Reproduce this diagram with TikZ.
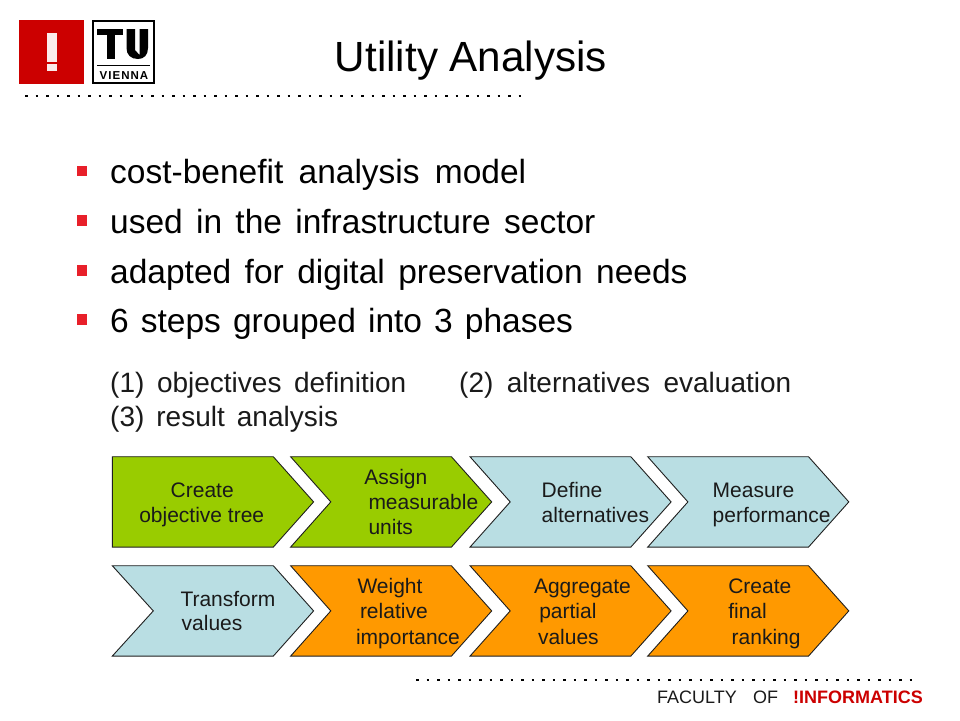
\documentclass[tikz,border=0pt]{standalone}
\usepackage{fontspec}
\setmainfont{Liberation Sans}
\newfontfamily\viennafont[LetterSpace=9]{Liberation Sans}
\definecolor{cgreen}{HTML}{99CC00}
\definecolor{cblue}{HTML}{B9DEE3}
\definecolor{corange}{HTML}{FF9900}
\definecolor{cred}{HTML}{CC0000}
\definecolor{cbullet}{HTML}{E8202A}
\definecolor{cink}{HTML}{1A1A1A}
\newcommand{\chev}[5]{% name, fill, left x, top y, notch (1/0)
  \ifnum#5=1
    \draw[chevline,fill=#2] (#3,#4) -- ++(160.8,0) -- ++(40.3,45.2) -- ++(-40.3,45.2) -- ++(-160.8,0) -- ++(40.2,-45.2) -- cycle;
  \else
    \draw[chevline,fill=#2] (#3,#4) -- ++(161,0) -- ++(40.3,45.2) -- ++(-40.3,45.2) -- ++(-161,0) -- cycle;
  \fi
}
\tikzset{
  chevline/.style={draw=black!88!white,line width=0.9pt},
  lbl/.style={anchor=base west,inner sep=0pt,outer sep=0pt,text=cink,font=\fontsize{21}{24}\selectfont},
  title/.style={anchor=base,inner sep=0pt,text=black,font=\fontsize{42.2}{48}\selectfont},
  bodyline/.style={anchor=base west,inner sep=0pt,text=black,font=\fontsize{33.5}{38}\selectfont},
  subline/.style={anchor=base west,inner sep=0pt,text=cink,font=\fontsize{28}{32}\selectfont},
  bullet/.style={fill=cbullet,draw=none},
  dots/.style={line width=2.6pt,dash pattern=on 2.6pt off 7.9pt,draw=black},
  foot/.style={anchor=base west,inner sep=0pt,font=\fontsize{18}{20}\selectfont}
}
\begin{document}
\begin{tikzpicture}[x=1pt,y=-1pt]
\useasboundingbox[fill=white] (0,0) rectangle (960,720);
% logos
\fill[cred] (19,20) rectangle (83.5,83.5);
\fill[white!92!cred] (47,33) rectangle (56.5,62);
\fill[white!92!cred] (47,64) rectangle (56.5,71);
\draw[line width=2pt,black] (93,21) rectangle (154,83);
\fill[black] (97,29) rectangle (123,35);
\fill[black] (106.5,29) rectangle (115,59);
\fill[black] (126.5,29) -- (135,29) -- (135,50) -- (139.5,55) -- (139.5,29) -- (148,29) -- (148,48) .. controls (148,55) and (144,59) .. (138,59) .. controls (131,59) and (126.5,55) .. (126.5,48) -- cycle;
\draw[line width=1pt,black] (97,65) -- (150,65);
\node[anchor=base,inner sep=0pt,font=\viennafont\fontsize{11.5}{12}\bfseries\selectfont] (vienna) at (124,79) {VIENNA};
% dotted rules
\draw[dots] (25,96) -- (527,96);
\draw[dots] (416,680) -- (919,680);
% title
\node[title] (ttl) at (471,71.5) {Utility Analysis};
% bullets
\fill[bullet] (76.7,165.5) rectangle (86.7,175.5);
\fill[bullet] (76.7,215) rectangle (86.7,225.5);
\fill[bullet] (76.7,265) rectangle (86.7,275.5);
\fill[bullet] (76.7,314) rectangle (86.7,324.5);
\node[bodyline] (b1) at (110,183) {\spaceskip=15.3pt cost-benefit analysis model};
\node[bodyline] (b2) at (110,233) {\spaceskip=13.3pt used in the infrastructure sector};
\node[bodyline] (b3) at (110,283) {\spaceskip=13.5pt adapted for digital preservation needs};
\node[bodyline] (b4) at (110,332) {\spaceskip=12.1pt 6 steps grouped into 3 phases};
\node[subline] (s1) at (110,392) {\spaceskip=12.6pt (1) objectives definition};
\node[subline] (s2) at (459,392) {\spaceskip=13.5pt (2) alternatives evaluation};
\node[subline] (s3) at (110,426) {\spaceskip=12pt (3) result analysis};
% chevrons row 1
\chev{c1}{cgreen}{112.3}{456.7}{0}
\chev{c2}{cgreen}{290.6}{456.7}{1}
\chev{c3}{cblue}{470}{456.7}{1}
\chev{c4}{cblue}{647.7}{456.7}{1}
% chevrons row 2
\draw[chevline,fill=cblue] (112.3,565.7) -- (273.3,565.7) -- (313.6,610.9) -- (273.3,656.1) -- (112.3,656.1) -- (153.3,610.9) -- cycle;
\chev{c6}{corange}{290.6}{565.7}{1}
\chev{c7}{corange}{470}{565.7}{1}
\chev{c8}{corange}{647.7}{565.7}{1}
% labels
\node[lbl] (t1a) at (170.7,497) {Create};
\node[lbl] (t1b) at (139.3,522) {objective tree};
\node[lbl] (t2a) at (364.3,484.3) {Assign};
\node[lbl] (t2b) at (368.5,509) {measurable};
\node[lbl] (t2c) at (368.5,534.3) {units};
\node[lbl] (t3a) at (541.7,497) {Define};
\node[lbl] (t3b) at (541.7,522) {alternatives};
\node[lbl] (t4a) at (712.7,497) {Measure};
\node[lbl] (t4b) at (712.7,522) {performance};
\node[lbl] (t5a) at (180.5,606) {Transform};
\node[lbl] (t5b) at (181.7,630.3) {values};
\node[lbl] (t6a) at (357.5,593) {Weight};
\node[lbl] (t6b) at (360,618) {relative};
\node[lbl] (t6c) at (356,644) {importance};
\node[lbl] (t7a) at (534,593) {Aggregate};
\node[lbl] (t7b) at (539.3,618) {partial};
\node[lbl] (t7c) at (538,644) {values};
\node[lbl] (t8a) at (728.3,593) {Create};
\node[lbl] (t8b) at (728.3,618) {final};
\node[lbl] (t8c) at (731.7,644) {ranking};
% footer
\node[foot,text=cink] (f1) at (657,703) {FACULTY};
\node[foot,text=cink] (f2) at (753,703) {OF};
\node[foot,text=cred,font=\fontsize{18}{20}\bfseries\selectfont] (f3) at (793,703) {!INFORMATICS};
\end{tikzpicture}
\end{document}
